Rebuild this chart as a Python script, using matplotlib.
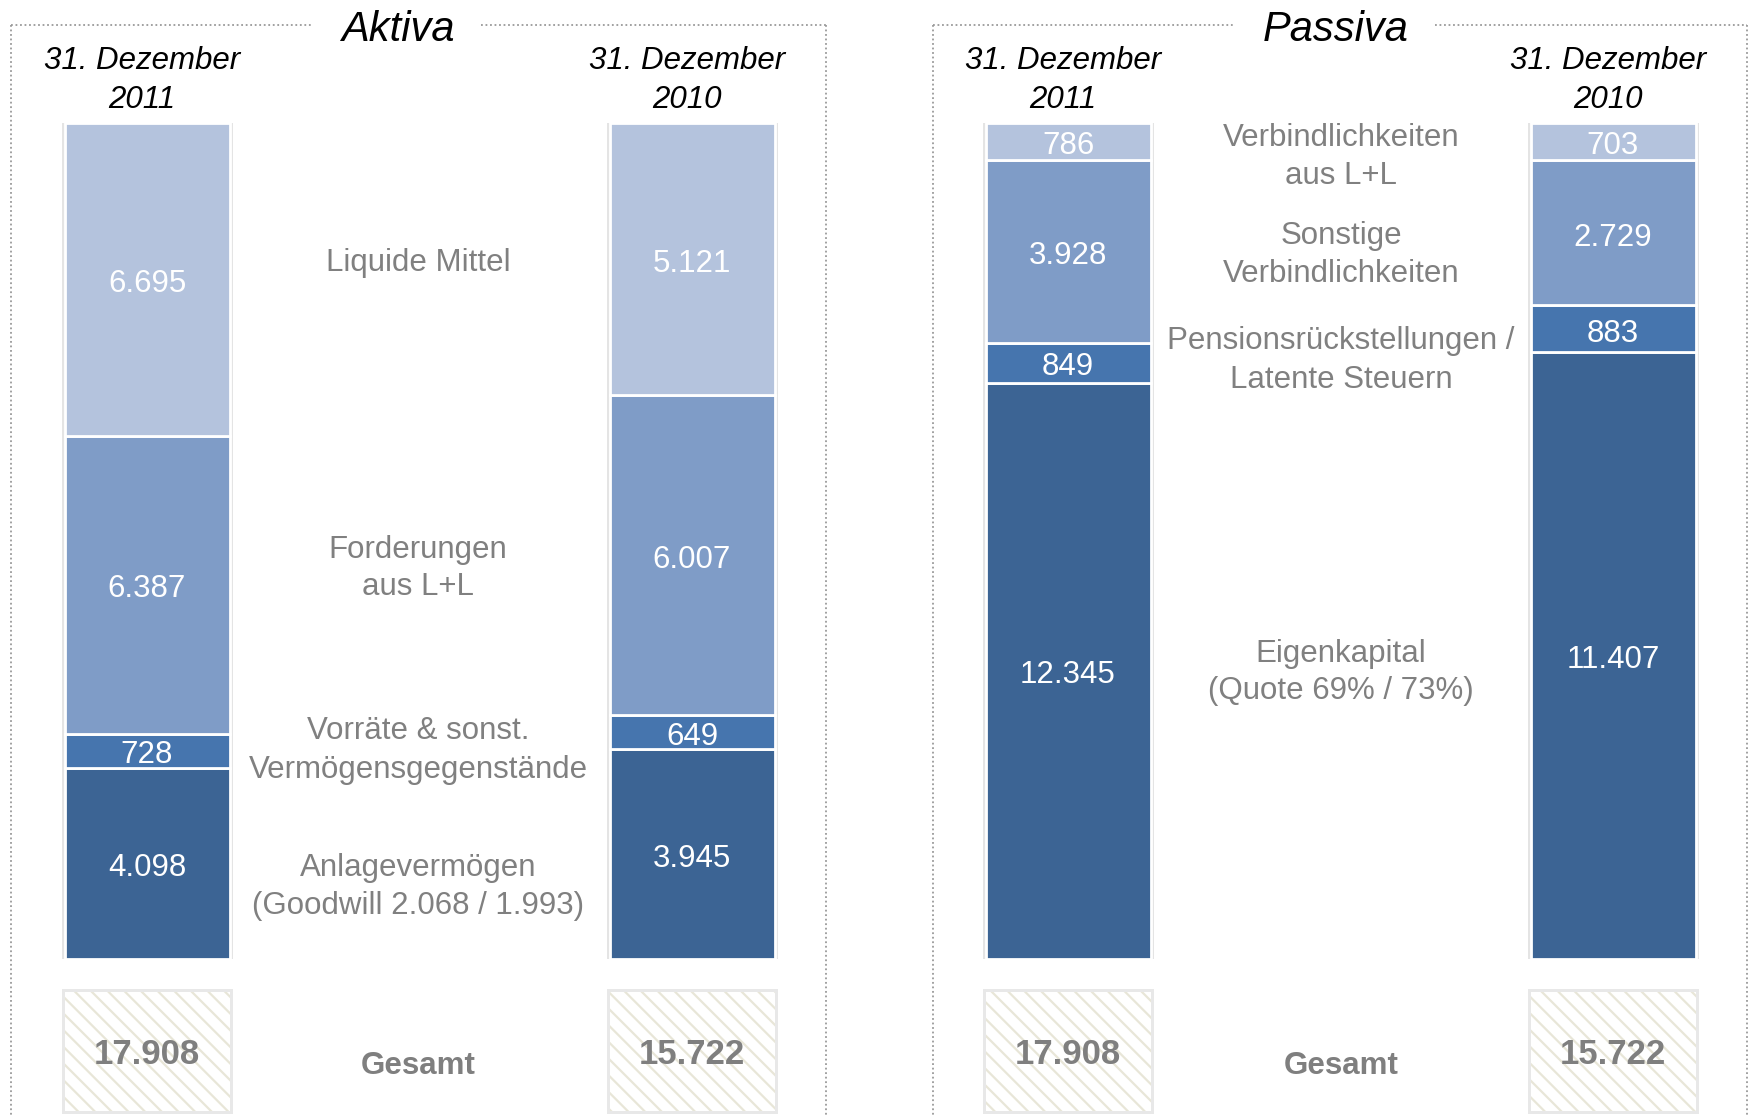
import matplotlib
matplotlib.use("Agg")
import matplotlib.pyplot as plt
from matplotlib.patches import Rectangle
import numpy as np

plt.rcParams['font.family'] = ['Liberation Sans', 'DejaVu Sans']
plt.rcParams['hatch.linewidth'] = 1.6

# ---------------- data ----------------
periods = ["31. Dezember\n2011", "31. Dezember\n2010"]

aktiva_categories = ["Anlagevermögen", "Vorräte & sonst. Vermögensgegenstände",
                     "Forderungen aus L+L", "Liquide Mittel"]
aktiva_2011 = [4098, 728, 6387, 6695]
aktiva_2010 = [3945, 649, 6007, 5121]

passiva_categories = ["Eigenkapital", "Pensionsrückstellungen / Latente Steuern",
                      "Sonstige Verbindlichkeiten", "Verbindlichkeiten aus L+L"]
passiva_2011 = [12345, 849, 3928, 786]
passiva_2010 = [11407, 883, 2729, 703]

totals = [17908, 15722]

segment_colors = ["#3C6494", "#4675AE", "#7F9CC7", "#B4C3DD"]

def fmt(v):
    return f"{v:,}".replace(",", ".")

# ---------------- layout ----------------
W, H = 1754, 1117
fig = plt.figure(figsize=(W / 100, H / 100), dpi=100)

bar_top, bar_bot = 123, 959
axb = fig.add_axes([0, 1 - bar_bot / H, 1, (bar_bot - bar_top) / H])
axb.set_xlim(0, W)
axb.set_ylim(0, 100)
axb.axis('off')

ov = fig.add_axes([0, 0, 1, 1], zorder=5)
ov.set_xlim(0, W)
ov.set_ylim(H, 0)
ov.axis('off')
ov.patch.set_alpha(0)

bar_w = 165
centers = [147, 692, 1068, 1613]
series = [aktiva_2011, aktiva_2010, passiva_2011, passiva_2010]
dy = 0.55  # small downward offset (in %) for value labels

for xc, vals in zip(centers, series):
    vals = np.array(vals, dtype=float)
    pct = vals / vals.sum() * 100
    bottoms = np.concatenate([[0], np.cumsum(pct)[:-1]])
    # shadow
    axb.bar(xc, 100.5, bottom=-0.35, width=bar_w + 6, color="#E4E4E4", zorder=1)
    axb.bar(xc, pct, bottom=bottoms, width=bar_w, color=segment_colors,
            edgecolor="white", linewidth=2, zorder=2)
    for b, v, p in zip(bottoms, vals, pct):
        axb.text(xc, b + p / 2 - dy, fmt(int(v)), ha='center', va='center',
                 color='white', fontsize=22.5, zorder=3)

# ---------------- panel borders ----------------
border_kw = dict(color="#9A9A9A", linestyle=(0, (1, 1.5)), linewidth=1.3)
for left, right, gap_l, gap_r in [(11, 826, 313, 481), (933, 1747, 1234, 1435)]:
    ov.plot([left, left], [25, H], **border_kw)
    ov.plot([right, right], [25, H], **border_kw)
    ov.plot([left, gap_l], [25, 25], **border_kw)
    ov.plot([gap_r, right], [25, 25], **border_kw)

ov.text(398, 30, "Aktiva", ha='center', va='center', fontsize=30, style='italic')
ov.text(1336, 30, "Passiva", ha='center', va='center', fontsize=30, style='italic')

# headers
for xc, lab in zip(centers, periods * 2):
    l1, l2 = lab.split("\n")
    ov.text(xc - 5, 61, l1, ha='center', va='center', fontsize=22.5, style='italic')
    ov.text(xc - 5, 100, l2, ha='center', va='center', fontsize=22.5, style='italic')

# middle labels
grey = "#808080"
mid_labels = [
    (418, [("Liquide Mittel", 263)]),
    (418, [("Forderungen", 550), ("aus L+L", 587)]),
    (418, [("Vorräte & sonst.", 731), ("Vermögensgegenstände", 770)]),
    (418, [("Anlagevermögen", 868), ("(Goodwill 2.068 / 1.993)", 906)]),
    (1341, [("Verbindlichkeiten", 138), ("aus L+L", 176)]),
    (1341, [("Sonstige", 236), ("Verbindlichkeiten", 274)]),
    (1341, [("Pensionsrückstellungen /", 341), ("Latente Steuern", 380)]),
    (1341, [("Eigenkapital", 654), ("(Quote 69% / 73%)", 691)]),
]
for x, lines in mid_labels:
    for t, y in lines:
        ov.text(x, y, t, ha='center', va='center', color=grey, fontsize=22.5)

# totals
box_top, box_bot = 992, 1111
for xc, tot in zip(centers, totals * 2):
    ov.add_patch(Rectangle((xc - bar_w / 2 - 3, box_top - 3), bar_w + 6, box_bot - box_top + 6,
                           facecolor="#E8E8E8", edgecolor='none', zorder=1))
    ov.add_patch(Rectangle((xc - bar_w / 2, box_top), bar_w, box_bot - box_top,
                           facecolor="white", edgecolor="#E8E6D8", hatch='\\\\',
                           linewidth=0, zorder=2))
    ov.text(xc, 1055, fmt(tot), ha='center', va='center', color="#7F7F7F",
            fontsize=25, fontweight='bold', zorder=3)

ov.text(418, 1066, "Gesamt", ha='center', va='center', color="#7F7F7F",
        fontsize=22.5, fontweight='bold')
ov.text(1341, 1066, "Gesamt", ha='center', va='center', color="#7F7F7F",
        fontsize=22.5, fontweight='bold')

fig.savefig("out.png", dpi=100)
